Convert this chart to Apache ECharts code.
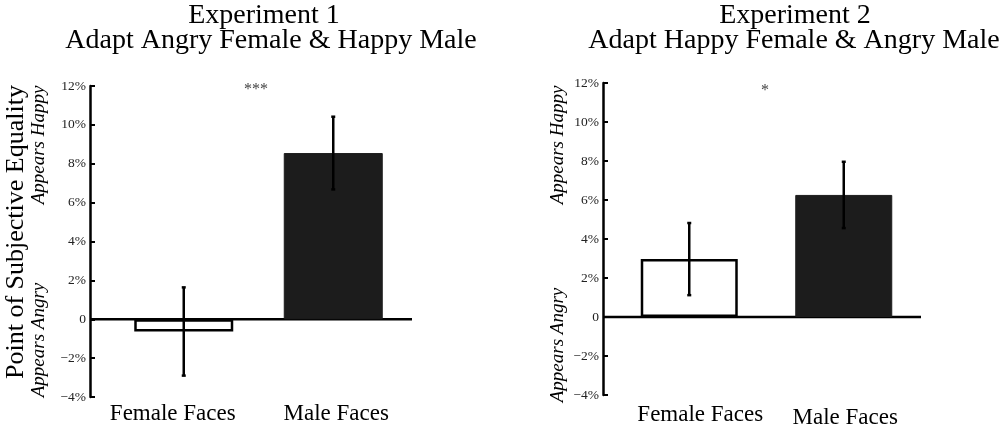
<!DOCTYPE html>
<html>
<head>
<meta charset="utf-8">
<script src="https://cdn.jsdelivr.net/npm/echarts@6/dist/echarts.min.js"></script>
<style>
html,body{margin:0;padding:0;background:#fff;}
#chart{width:1000px;height:426px;}
</style>
</head>
<body>
<div id="chart"></div>
<script>
// ---- data ----
const categories = ['Female Faces', 'Male Faces'];
const exp1Means = [-0.63, 8.55];
const exp1Errors = [2.27, 1.87];
const exp2Means = [2.97, 6.26];
const exp2Errors = [1.85, 1.70];
const yMin = -4, yMax = 12, yStep = 2;
const exp1Title = ['Experiment 1', 'Adapt Angry Female & Happy Male'];
const exp2Title = ['Experiment 2', 'Adapt Happy Female & Angry Male'];
const exp1Sig = '***';
const exp2Sig = '*';
const yTitle = 'Point of Subjective Equality';
const upLabel = 'Appears Happy';
const downLabel = 'Appears Angry';

const FONT = "'Liberation Serif', 'Times New Roman', serif";
const chart = echarts.init(document.getElementById('chart'), null, {renderer: 'canvas'});

function tickFmt(v) {
  if (v === 0) return '0';
  if (v < 0) return '\u2212' + (-v) + '%';
  return v + '%';
}

function barData(means) {
  return means.map((m, i) => ({
    value: m,
    itemStyle: i === 0
      ? {color: '#ffffff', borderColor: '#000', borderWidth: 2.5}
      : {color: '#1c1c1c', borderColor: '#1c1c1c', borderWidth: 1}
  }));
}

function errRender(params, api) {
  const x = api.value(0), m = api.value(1), e = api.value(2);
  const top = api.coord([x, m + e]);
  const bot = api.coord([x, m - e]);
  const cap = 2;
  const st = {stroke: '#000', lineWidth: 2.5};
  return {
    type: 'group',
    children: [
      {type: 'line', shape: {x1: top[0], y1: top[1], x2: bot[0], y2: bot[1]}, style: st},
      {type: 'line', shape: {x1: top[0] - cap, y1: top[1], x2: top[0] + cap, y2: top[1]}, style: st},
      {type: 'line', shape: {x1: bot[0] - cap, y1: bot[1], x2: bot[0] + cap, y2: bot[1]}, style: st}
    ]
  };
}

function baseRender(axisOffset, extra) {
  return function (params, api) {
    const cs = params.coordSys;
    const y0 = api.coord([0, 0])[1];
    return {
      type: 'line',
      shape: {x1: cs.x - axisOffset, y1: y0, x2: cs.x + cs.width + extra, y2: y0},
      style: {stroke: '#000', lineWidth: 2.5}
    };
  };
}

function yAxisCfg(gi, off) {
  return {
    gridIndex: gi, type: 'value', min: yMin, max: yMax, interval: yStep, offset: off,
    axisLine: {show: true, lineStyle: {color: '#000', width: 2.5}},
    axisTick: {show: true, inside: true, length: 5, lineStyle: {color: '#000', width: 2}},
    axisLabel: {formatter: tickFmt, fontSize: 13.5, color: '#222', margin: 4, fontFamily: FONT},
    splitLine: {show: false}
  };
}

function xAxisCfg(gi, data, margin) {
  return {
    gridIndex: gi, type: 'category', data: data,
    axisLine: {show: false}, axisTick: {show: false},
    axisLabel: {fontSize: 23, color: '#000', margin: margin, fontFamily: FONT, interval: 0}
  };
}

const off1 = 19, off2 = 9;
// label nudges (layout only)
const pads1 = [[0, 22, 0, 0], [0, 0, 0, 6]];
const pads2 = [[0, 0, 0, 22], [3, 0, 0, 3]];

const titleStyle = {fontFamily: FONT, fontSize: 28, fontWeight: 'normal', color: '#000'};

const option = {
  animation: false,
  backgroundColor: '#fff',
  title: [
    {text: exp1Title[0], left: 259, top: -3, textAlign: 'center', textStyle: titleStyle},
    {text: exp1Title[1], left: 266, top: 22, textAlign: 'center', textStyle: titleStyle},
    {text: exp2Title[0], left: 790, top: -3, textAlign: 'center', textStyle: titleStyle},
    {text: exp2Title[1], left: 789, top: 22, textAlign: 'center', textStyle: titleStyle}
  ],
  grid: [
    {left: 109, width: 299, top: 86, height: 311, outerBoundsMode: 'none', containLabel: false},
    {left: 612, width: 309, top: 83, height: 312, outerBoundsMode: 'none', containLabel: false}
  ],
  xAxis: [
    xAxisCfg(0, categories.map((c, i) => ({value: c, textStyle: {padding: pads1[i]}})), 5),
    xAxisCfg(1, categories.map((c, i) => ({value: c, textStyle: {padding: pads2[i]}})), 8)
  ],
  yAxis: [yAxisCfg(0, off1), yAxisCfg(1, off2)],
  series: [
    {type: 'custom', xAxisIndex: 0, yAxisIndex: 0, data: [[0, 0]], renderItem: baseRender(off1, 4), z: 1, silent: true},
    {type: 'bar', xAxisIndex: 0, yAxisIndex: 0, data: barData(exp1Means), barWidth: 99, z: 2},
    {type: 'custom', xAxisIndex: 0, yAxisIndex: 0, renderItem: errRender, z: 3,
     data: exp1Means.map((m, i) => [i, m, exp1Errors[i]]), encode: {x: 0, y: 1}},
    {type: 'custom', xAxisIndex: 1, yAxisIndex: 1, data: [[0, 0]], renderItem: baseRender(off2, 0), z: 1, silent: true},
    {type: 'bar', xAxisIndex: 1, yAxisIndex: 1, data: barData(exp2Means), barWidth: 97, z: 2},
    {type: 'custom', xAxisIndex: 1, yAxisIndex: 1, renderItem: errRender, z: 3,
     data: exp2Means.map((m, i) => [i, m, exp2Errors[i]]), encode: {x: 0, y: 1}}
  ],
  graphic: [
    {type: 'text', x: 16, y: 232, rotation: Math.PI / 2,
     style: {text: yTitle, font: '26px ' + FONT, fill: '#000', textAlign: 'center', textVerticalAlign: 'middle'}},
    {type: 'text', x: 39, y: 145, rotation: Math.PI / 2,
     style: {text: upLabel, font: 'italic 19px ' + FONT, fill: '#000', textAlign: 'center', textVerticalAlign: 'middle'}},
    {type: 'text', x: 39, y: 340, rotation: Math.PI / 2,
     style: {text: downLabel, font: 'italic 19px ' + FONT, fill: '#000', textAlign: 'center', textVerticalAlign: 'middle'}},
    {type: 'text', x: 558, y: 145, rotation: Math.PI / 2,
     style: {text: upLabel, font: 'italic 19px ' + FONT, fill: '#000', textAlign: 'center', textVerticalAlign: 'middle'}},
    {type: 'text', x: 558, y: 345, rotation: Math.PI / 2,
     style: {text: downLabel, font: 'italic 19px ' + FONT, fill: '#000', textAlign: 'center', textVerticalAlign: 'middle'}},
    {type: 'text', x: 256, y: 90,
     style: {text: exp1Sig, font: '16px ' + FONT, fill: '#444', textAlign: 'center', textVerticalAlign: 'middle'}},
    {type: 'text', x: 765, y: 91,
     style: {text: exp2Sig, font: '16px ' + FONT, fill: '#444', textAlign: 'center', textVerticalAlign: 'middle'}}
  ]
};
chart.setOption(option);
</script>
</body>
</html>
